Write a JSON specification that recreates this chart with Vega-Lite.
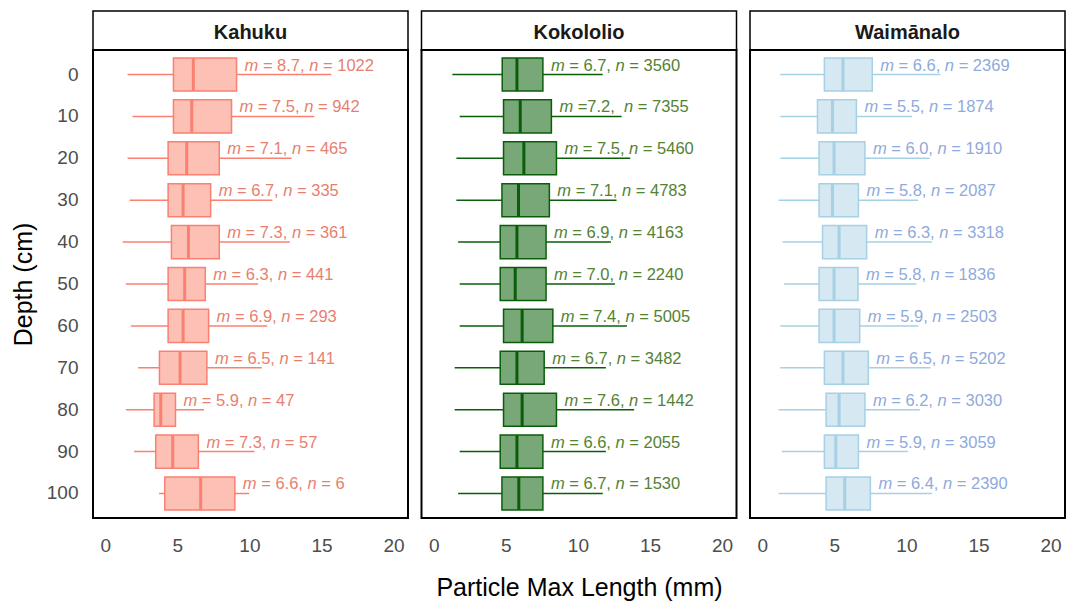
{
  "$schema": "https://vega.github.io/schema/vega-lite/v6.json",
  "background": "white",
  "padding": {"left": 10, "top": 10, "right": 0, "bottom": 0},
  "datasets": {
    "boxes": [
      {"site": "Kahuku", "depth": 0, "lo": 1.55, "q1": 4.73, "med": 6.11, "q3": 9.11, "hi": 15.68, "mseg": "= 8.7,", "nseg": "= 1022"},
      {"site": "Kahuku", "depth": 10, "lo": 1.89, "q1": 4.73, "med": 6.0, "q3": 8.76, "hi": 14.5, "mseg": "= 7.5,", "nseg": "= 942"},
      {"site": "Kahuku", "depth": 20, "lo": 1.55, "q1": 4.36, "med": 5.65, "q3": 7.91, "hi": 12.93, "mseg": "= 7.1,", "nseg": "= 465"},
      {"site": "Kahuku", "depth": 30, "lo": 1.69, "q1": 4.36, "med": 5.4, "q3": 7.31, "hi": 11.6, "mseg": "= 6.7,", "nseg": "= 335"},
      {"site": "Kahuku", "depth": 40, "lo": 1.2, "q1": 4.59, "med": 5.77, "q3": 7.91, "hi": 12.8, "mseg": "= 7.3,", "nseg": "= 361"},
      {"site": "Kahuku", "depth": 50, "lo": 1.43, "q1": 4.36, "med": 5.51, "q3": 6.94, "hi": 10.6, "mseg": "= 6.3,", "nseg": "= 441"},
      {"site": "Kahuku", "depth": 60, "lo": 1.78, "q1": 4.36, "med": 5.4, "q3": 7.17, "hi": 11.23, "mseg": "= 6.9,", "nseg": "= 293"},
      {"site": "Kahuku", "depth": 70, "lo": 2.28, "q1": 3.76, "med": 5.19, "q3": 7.05, "hi": 10.86, "mseg": "= 6.5,", "nseg": "= 141"},
      {"site": "Kahuku", "depth": 80, "lo": 1.43, "q1": 3.39, "med": 3.85, "q3": 4.87, "hi": 6.85, "mseg": "= 5.9,", "nseg": "= 47"},
      {"site": "Kahuku", "depth": 90, "lo": 2.0, "q1": 3.5, "med": 4.68, "q3": 6.46, "hi": 10.35, "mseg": "= 7.3,", "nseg": "= 57"},
      {"site": "Kahuku", "depth": 100, "lo": 3.73, "q1": 4.13, "med": 6.62, "q3": 8.99, "hi": 9.98, "mseg": "= 6.6,", "nseg": "= 6"},
      {"site": "Kokololio", "depth": 0, "lo": 1.29, "q1": 4.75, "med": 5.77, "q3": 7.57, "hi": 11.72, "mseg": "= 6.7,", "nseg": "= 3560"},
      {"site": "Kokololio", "depth": 10, "lo": 1.8, "q1": 4.84, "med": 6.0, "q3": 8.16, "hi": 13.03, "mseg": "=7.2,", "nseg": "= 7355"},
      {"site": "Kokololio", "depth": 20, "lo": 1.57, "q1": 4.84, "med": 6.25, "q3": 8.51, "hi": 13.63, "mseg": "= 7.5,", "nseg": "= 5460"},
      {"site": "Kokololio", "depth": 30, "lo": 1.57, "q1": 4.73, "med": 5.88, "q3": 8.02, "hi": 12.68, "mseg": "= 7.1,", "nseg": "= 4783"},
      {"site": "Kokololio", "depth": 40, "lo": 1.69, "q1": 4.61, "med": 5.77, "q3": 7.79, "hi": 12.29, "mseg": "= 6.9,", "nseg": "= 4163"},
      {"site": "Kokololio", "depth": 50, "lo": 1.8, "q1": 4.61, "med": 5.65, "q3": 7.79, "hi": 12.57, "mseg": "= 7.0,", "nseg": "= 2240"},
      {"site": "Kokololio", "depth": 60, "lo": 1.8, "q1": 4.84, "med": 6.13, "q3": 8.26, "hi": 13.4, "mseg": "= 7.4,", "nseg": "= 5005"},
      {"site": "Kokololio", "depth": 70, "lo": 1.45, "q1": 4.61, "med": 5.77, "q3": 7.66, "hi": 11.94, "mseg": "= 6.7,", "nseg": "= 3482"},
      {"site": "Kokololio", "depth": 80, "lo": 1.45, "q1": 4.84, "med": 6.13, "q3": 8.51, "hi": 13.9, "mseg": "= 7.6,", "nseg": "= 1442"},
      {"site": "Kokololio", "depth": 90, "lo": 1.8, "q1": 4.61, "med": 5.77, "q3": 7.57, "hi": 11.94, "mseg": "= 6.6,", "nseg": "= 2055"},
      {"site": "Kokololio", "depth": 100, "lo": 1.69, "q1": 4.73, "med": 5.9, "q3": 7.57, "hi": 11.72, "mseg": "= 6.7,", "nseg": "= 1530"},
      {"site": "Waimānalo", "depth": 0, "lo": 1.25, "q1": 4.31, "med": 5.6, "q3": 7.63, "hi": 12.36, "mseg": "= 6.6,", "nseg": "= 2369"},
      {"site": "Waimānalo", "depth": 10, "lo": 1.25, "q1": 3.83, "med": 4.87, "q3": 6.53, "hi": 10.4, "mseg": "= 5.5,", "nseg": "= 1874"},
      {"site": "Waimānalo", "depth": 20, "lo": 1.25, "q1": 3.94, "med": 4.98, "q3": 7.12, "hi": 11.62, "mseg": "= 6.0,", "nseg": "= 1910"},
      {"site": "Waimānalo", "depth": 30, "lo": 1.13, "q1": 3.94, "med": 4.87, "q3": 6.67, "hi": 10.82, "mseg": "= 5.8,", "nseg": "= 2087"},
      {"site": "Waimānalo", "depth": 40, "lo": 1.41, "q1": 4.18, "med": 5.33, "q3": 7.24, "hi": 11.78, "mseg": "= 6.3,", "nseg": "= 3318"},
      {"site": "Waimānalo", "depth": 50, "lo": 1.52, "q1": 3.94, "med": 4.98, "q3": 6.64, "hi": 10.68, "mseg": "= 5.8,", "nseg": "= 1836"},
      {"site": "Waimānalo", "depth": 60, "lo": 1.25, "q1": 3.94, "med": 4.98, "q3": 6.76, "hi": 10.82, "mseg": "= 5.9,", "nseg": "= 2503"},
      {"site": "Waimānalo", "depth": 70, "lo": 1.25, "q1": 4.31, "med": 5.6, "q3": 7.36, "hi": 11.67, "mseg": "= 6.5,", "nseg": "= 5202"},
      {"site": "Waimānalo", "depth": 80, "lo": 1.13, "q1": 4.43, "med": 5.33, "q3": 7.12, "hi": 10.93, "mseg": "= 6.2,", "nseg": "= 3030"},
      {"site": "Waimānalo", "depth": 90, "lo": 1.36, "q1": 4.31, "med": 5.1, "q3": 6.67, "hi": 10.1, "mseg": "= 5.9,", "nseg": "= 3059"},
      {"site": "Waimānalo", "depth": 100, "lo": 1.13, "q1": 4.43, "med": 5.72, "q3": 7.5, "hi": 11.78, "mseg": "= 6.4,", "nseg": "= 2390"}
    ]
  },
  "config": {
    "font": "Liberation Sans",
    "axis": {
      "labelFont": "Liberation Sans", "labelFontSize": 19, "labelColor": "#4D4D4D",
      "ticks": false, "domain": false, "grid": false,
      "titleFont": "Liberation Sans", "titleFontSize": 25, "titleColor": "#000000", "titleFontWeight": "normal"
    },
    "text": {"font": "Liberation Sans", "fontSize": 16.5, "baseline": "alphabetic", "align": "left", "dy": -4}
  },
  "concat": [
    {
      "width": 315, "height": 39,
      "view": {"stroke": "#000000", "strokeWidth": 1.5, "fill": "white"},
      "data": {"values": [{"site": "Kahuku"}]},
      "mark": {"type": "text", "fontSize": 20, "fontWeight": "bold", "color": "#1A1A1A", "align": "center", "baseline": "middle", "dy": 2},
      "encoding": {"text": {"field": "site"}}
    },
    {
      "width": 315, "height": 39,
      "view": {"stroke": "#000000", "strokeWidth": 1.5, "fill": "white"},
      "data": {"values": [{"site": "Kokololio"}]},
      "mark": {"type": "text", "fontSize": 20, "fontWeight": "bold", "color": "#1A1A1A", "align": "center", "baseline": "middle", "dy": 2},
      "encoding": {"text": {"field": "site"}}
    },
    {
      "width": 315, "height": 39,
      "view": {"stroke": "#000000", "strokeWidth": 1.5, "fill": "white"},
      "data": {"values": [{"site": "Waimānalo"}]},
      "mark": {"type": "text", "fontSize": 20, "fontWeight": "bold", "color": "#1A1A1A", "align": "center", "baseline": "middle", "dy": 2},
      "encoding": {"text": {"field": "site"}}
    },
    {
      "width": 315, "height": 468,
      "view": {"stroke": "#000000", "strokeWidth": 2},
      "data": {"name": "boxes"},
      "transform": [{"filter": "datum.site === 'Kahuku'"}],
      "encoding": {
        "y": {"field": "depth", "type": "ordinal", "scale": {"domain": [0,10,20,30,40,50,60,70,80,90,100], "paddingInner": 0, "paddingOuter": 0.085},
              "axis": {"title": "Depth (cm)", "labelPadding": 15, "titlePadding": 10}}
      },
      "layer": [
        {"mark": {"type": "rule", "color": "#FA8072", "strokeWidth": 1.5},
         "encoding": {"x": {"field": "lo", "type": "quantitative", "scale": {"domain": [-0.85, 21], "nice": false, "zero": false},
                            "axis": {"values": [0,5,10,15,20], "title": null, "labelPadding": 18}},
                      "x2": {"field": "hi"}}},
        {"mark": {"type": "bar", "fill": "#FCC0B5", "stroke": "#FA8072", "strokeWidth": 1.5, "height": {"band": 0.79}},
         "encoding": {"x": {"field": "q1", "type": "quantitative"}, "x2": {"field": "q3"}}},
        {"mark": {"type": "tick", "color": "#FA8072", "thickness": 3, "size": 33, "opacity": 1},
         "encoding": {"x": {"field": "med", "type": "quantitative"}}},
        {"mark": {"type": "text", "text": "m", "fontStyle": "italic", "dx": 8, "color": "#E8806F"},
         "encoding": {"x": {"field": "q3", "type": "quantitative"}}},
        {"mark": {"type": "text", "dx": 26.3, "color": "#E8806F"},
         "encoding": {"x": {"field": "q3", "type": "quantitative"}, "text": {"field": "mseg"}}},
        {"mark": {"type": "text", "text": "n", "fontStyle": "italic", "dx": 72.6, "color": "#E8806F"},
         "encoding": {"x": {"field": "q3", "type": "quantitative"}}},
        {"mark": {"type": "text", "dx": 86.4, "color": "#E8806F"},
         "encoding": {"x": {"field": "q3", "type": "quantitative"}, "text": {"field": "nseg"}}}
      ]
    },
    {
      "width": 315, "height": 468,
      "view": {"stroke": "#000000", "strokeWidth": 2},
      "data": {"name": "boxes"},
      "transform": [{"filter": "datum.site === 'Kokololio'"}],
      "encoding": {
        "y": {"field": "depth", "type": "ordinal", "scale": {"domain": [0,10,20,30,40,50,60,70,80,90,100], "paddingInner": 0, "paddingOuter": 0.085},
              "axis": null}
      },
      "layer": [
        {"mark": {"type": "rule", "color": "#0A5E0A", "strokeWidth": 1.5},
         "encoding": {"x": {"field": "lo", "type": "quantitative", "scale": {"domain": [-0.85, 21], "nice": false, "zero": false},
                            "axis": {"values": [0,5,10,15,20], "title": "Particle Max Length (mm)", "labelPadding": 18, "titlePadding": 20}},
                      "x2": {"field": "hi"}}},
        {"mark": {"type": "bar", "fill": "#78A878", "stroke": "#0A5E0A", "strokeWidth": 1.5, "height": {"band": 0.79}},
         "encoding": {"x": {"field": "q1", "type": "quantitative"}, "x2": {"field": "q3"}}},
        {"mark": {"type": "tick", "color": "#0A5E0A", "thickness": 3, "size": 33, "opacity": 1},
         "encoding": {"x": {"field": "med", "type": "quantitative"}}},
        {"mark": {"type": "text", "text": "m", "fontStyle": "italic", "dx": 8, "color": "#548235"},
         "encoding": {"x": {"field": "q3", "type": "quantitative"}}},
        {"mark": {"type": "text", "dx": 26.3, "color": "#548235"},
         "encoding": {"x": {"field": "q3", "type": "quantitative"}, "text": {"field": "mseg"}}},
        {"mark": {"type": "text", "text": "n", "fontStyle": "italic", "dx": 72.6, "color": "#548235"},
         "encoding": {"x": {"field": "q3", "type": "quantitative"}}},
        {"mark": {"type": "text", "dx": 86.4, "color": "#548235"},
         "encoding": {"x": {"field": "q3", "type": "quantitative"}, "text": {"field": "nseg"}}}
      ]
    },
    {
      "width": 315, "height": 468,
      "view": {"stroke": "#000000", "strokeWidth": 2},
      "data": {"name": "boxes"},
      "transform": [{"filter": "datum.site === 'Waimānalo'"}],
      "encoding": {
        "y": {"field": "depth", "type": "ordinal", "scale": {"domain": [0,10,20,30,40,50,60,70,80,90,100], "paddingInner": 0, "paddingOuter": 0.085},
              "axis": null}
      },
      "layer": [
        {"mark": {"type": "rule", "color": "#A6D0E4", "strokeWidth": 1.5},
         "encoding": {"x": {"field": "lo", "type": "quantitative", "scale": {"domain": [-0.85, 21], "nice": false, "zero": false},
                            "axis": {"values": [0,5,10,15,20], "title": null, "labelPadding": 18}},
                      "x2": {"field": "hi"}}},
        {"mark": {"type": "bar", "fill": "#D6E8F1", "stroke": "#A6D0E4", "strokeWidth": 1.5, "height": {"band": 0.79}},
         "encoding": {"x": {"field": "q1", "type": "quantitative"}, "x2": {"field": "q3"}}},
        {"mark": {"type": "tick", "color": "#A6D0E4", "thickness": 3, "size": 33, "opacity": 1},
         "encoding": {"x": {"field": "med", "type": "quantitative"}}},
        {"mark": {"type": "text", "text": "m", "fontStyle": "italic", "dx": 8, "color": "#8FAADC"},
         "encoding": {"x": {"field": "q3", "type": "quantitative"}}},
        {"mark": {"type": "text", "dx": 26.3, "color": "#8FAADC"},
         "encoding": {"x": {"field": "q3", "type": "quantitative"}, "text": {"field": "mseg"}}},
        {"mark": {"type": "text", "text": "n", "fontStyle": "italic", "dx": 72.6, "color": "#8FAADC"},
         "encoding": {"x": {"field": "q3", "type": "quantitative"}}},
        {"mark": {"type": "text", "dx": 86.4, "color": "#8FAADC"},
         "encoding": {"x": {"field": "q3", "type": "quantitative"}, "text": {"field": "nseg"}}}
      ]
    }
  ],
  "columns": 3,
  "spacing": {"row": 0, "column": 13.5},
  "bounds": "flush"
}
